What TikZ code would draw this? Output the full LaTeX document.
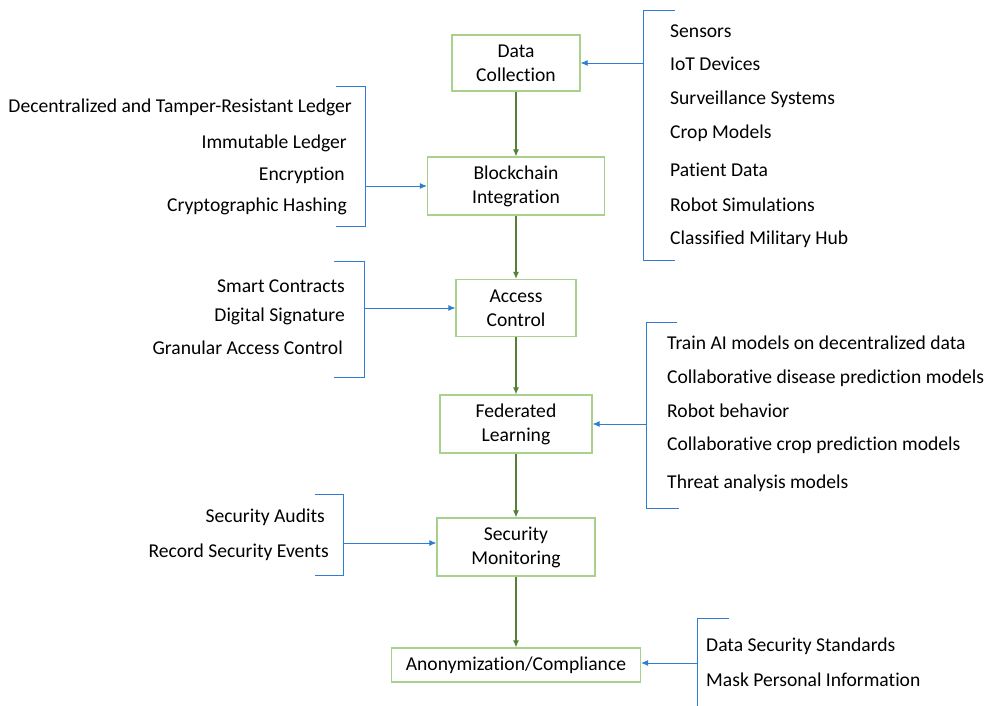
\documentclass[tikz,border=0pt]{standalone}
\usepackage{fontspec}
\setmainfont[Ligatures=NoCommon]{Carlito}
\usetikzlibrary{arrows.meta,positioning,calc}
\definecolor{boxgreen}{RGB}{169,209,142}
\definecolor{flowgreen}{RGB}{84,130,53}
\definecolor{brblue}{RGB}{46,125,210}

\begin{document}
\begin{tikzpicture}[x=1pt,y=-1pt,
stage/.style={draw=boxgreen,line width=1.2pt,fill=white,align=center,
inner sep=0pt,font=\fontsize{19.6}{24}\selectfont},
item/.style={inner sep=0pt,font=\fontsize{19.6}{24}\selectfont},
flow/.style={-{Latex[length=7pt,width=6pt]},line width=1.1pt,flowgreen},
brk/.style={line width=1pt,brblue},
feed/.style={-{Latex[length=7pt,width=6pt]},line width=0.9pt,brblue}
]
\useasboundingbox (0,0) rectangle (990,706);
% main stages
\node[stage,minimum width=128pt,minimum height=56pt] (dc) at (516,63) {Data\\Collection};
\node[stage,minimum width=177pt,minimum height=58pt] (bi) at (516,186) {Blockchain\\Integration};
\node[stage,minimum width=120pt,minimum height=57pt] (ac) at (516,308) {Access\\Control};
\node[stage,minimum width=152pt,minimum height=58pt] (fl) at (516,424) {Federated\\Learning};
\node[stage,minimum width=158pt,minimum height=58pt] (sm) at (516,547) {Security\\Monitoring};
\node[stage,minimum width=249pt,minimum height=34pt] (an) at (516,665) {Anonymization/Compliance};
\draw[flow] (dc) -- (bi);
\draw[flow] (bi) -- (ac);
\draw[flow] (ac) -- (fl);
\draw[flow] (fl) -- (sm);
\draw[flow] (sm) -- (an);

% sources of data
\draw[brk] (675,11) -| (643,260) -- (675,260);
\coordinate (src1) at (643,63);
\draw[feed] (src1) -- (src1 -| dc.east);
\foreach \txt/\yy in {Sensors/31,IoT Devices/64,Surveillance Systems/99,Crop Models/133,
Patient Data/170,Robot Simulations/205,Classified Military Hub/239}
  \node[item,anchor=west] at (670,\yy) {\txt};

% ledger features
\draw[brk] (336,87) -| (365,226) -- (336,226);
\coordinate (src2) at (365,186);
\draw[feed] (src2) -- (src2 -| bi.west);
\node[item,anchor=east] (led1) at (352,107) {Decentralized and Tamper-Resistant Ledger};
\node[item,anchor=east] (led2) at (347,143) {Immutable Ledger};
\node[item,anchor=east] (led3) at (345,175) {Encryption};
\node[item,anchor=east] (led4) at (347,206) {Cryptographic Hashing};

% access rules
\draw[brk] (334,261) -| (364,377) -- (334,377);
\coordinate (src3) at (364,308);
\draw[feed] (src3) -- (src3 -| ac.west);
\node[item,anchor=east] (acc1) at (345,286) {Smart Contracts};
\node[item,anchor=east] (acc2) at (345,316) {Digital Signature};
\node[item,anchor=east] (acc3) at (343,348) {Granular Access Control};

% learning tasks
\draw[brk] (677,322) -| (646,508) -- (679,508);
\coordinate (src4) at (646,424);
\draw[feed] (src4) -- (src4 -| fl.east);
\foreach \txt/\yy in {Train AI models on decentralized data/343,
Collaborative disease prediction models/378,Robot behavior/411,
Collaborative crop prediction models/445,Threat analysis models/483}
  \node[item,anchor=west] at (667,\yy) {\txt};

% monitoring
\draw[brk] (315,494) -| (343,575) -- (315,575);
\coordinate (src5) at (343,543);
\draw[feed] (src5) -- (src5 -| sm.west);
\node[item,anchor=east] (mon1) at (325,517) {Security Audits};
\node[item,anchor=east] (mon2) at (329,552) {Record Security Events};

% compliance
\draw[brk] (729,618) -| (697,710);
\coordinate (src6) at (697,663);
\draw[feed] (src6) -- (src6 -| an.east);
\node[item,anchor=west] (cmp1) at (706,646) {Data Security Standards};
\node[item,anchor=west] (cmp2) at (706,680) {Mask Personal Information};
\end{tikzpicture}
\end{document}
